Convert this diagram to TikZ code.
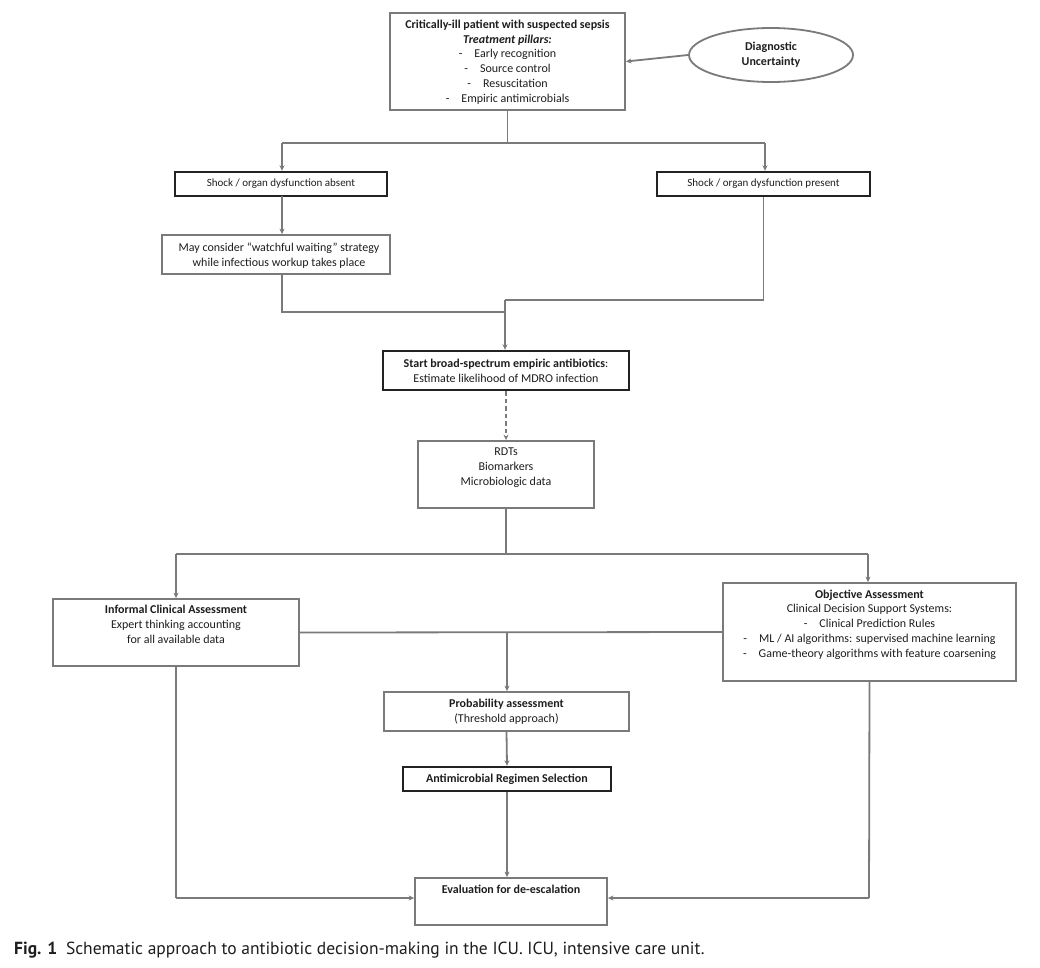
\documentclass[tikz,border=0pt]{standalone}
\usepackage{fontspec}
\setmainfont{Carlito}
\newfontfamily\capfont{PT Sans}
\usetikzlibrary{arrows.meta,shapes.geometric}
\definecolor{lgray}{HTML}{7A7A7A}
\definecolor{dgray}{HTML}{222222}
\definecolor{tgray}{HTML}{1E1E1E}
\tikzset{
  thinbox/.style={draw=lgray,line width=1.8pt,minimum width=#1,inner sep=0pt},
  thickbox/.style={draw=dgray,line width=2.4pt,minimum width=#1,inner sep=0pt},
  txt/.style={align=center,inner sep=0pt,text=tgray,font=\fontsize{12}{14.8}\selectfont},
  smalltxt/.style={txt,font=\fontsize{11}{14}\selectfont},
  conn/.style={draw=lgray,line width=1.8pt},
  arr/.style={conn,-{Stealth[length=5.5pt,width=5pt]}},
  darr/.style={arr,dash pattern=on 4.5pt off 3pt},
}
\begin{document}
\begin{tikzpicture}[x=1pt,y=-1pt]
\useasboundingbox[fill=white] (0,0) rectangle (1040,967);
% boxes
\node[thinbox=235pt,minimum height=97pt] (top) at (507.5,61.5) {};
\node[txt] (toptxt) at (507.5,62) {\textbf{Critically-ill patient with suspected sepsis}\\
  \textbf{\textit{Treatment pillars:}}\\
  -\quad Early recognition\\
  -\quad Source control\\
  -\quad Resuscitation\\
  -\quad Empiric antimicrobials};
\node[ellipse,draw=lgray,line width=1.8pt,minimum width=164pt,minimum height=54pt,inner sep=0pt] (ell) at (771,55) {};
\node[txt] (elltxt) at (771,55) {\textbf{Diagnostic}\\\textbf{Uncertainty}};
\node[thickbox=212pt,minimum height=24pt] (absent) at (281,184) {};
\node[smalltxt] (absenttxt) at (281,184) {Shock / organ dysfunction absent};
\node[thickbox=213pt,minimum height=24pt] (present) at (763.5,184) {};
\node[smalltxt] (presenttxt) at (763.5,184) {Shock / organ dysfunction present};
\node[thinbox=228pt,minimum height=39pt] (watch) at (276,254.5) {};
\node[txt] (watchtxt) at (279,255.5) {May consider ``watchful waiting'' strategy\\while infectious workup takes place};
\node[thickbox=246pt,minimum height=39pt] (broad) at (506,370.5) {};
\node[txt] (broadtxt) at (506,370.5) {\textbf{Start broad-spectrum empiric antibiotics}:\\Estimate likelihood of MDRO infection};
\node[thinbox=176pt,minimum height=67pt] (rdt) at (506,474.5) {};
\node[txt] (rdttxt) at (506,467.5) {RDTs\\Biomarkers\\Microbiologic data};
\node[thinbox=246pt,minimum height=67pt] (inf) at (176,632.5) {};
\node[txt] (inftxt) at (176,624.5) {\textbf{Informal Clinical Assessment}\\Expert thinking accounting\\for all available data};
\node[thinbox=293pt,minimum height=98pt] (obj) at (869.5,632) {};
\node[txt] (objtxt) at (869.5,624.5) {\textbf{Objective Assessment}\\Clinical Decision Support Systems:\\
  -\quad Clinical Prediction Rules\\
  -\quad ML / AI algorithms: supervised machine learning\\
  -\quad Game-theory algorithms with feature coarsening};
\node[thinbox=245pt,minimum height=39pt] (prob) at (506.5,711.5) {};
\node[txt] (probtxt) at (506.5,711.5) {\textbf{Probability assessment}\\(Threshold approach)};
\node[thickbox=208pt,minimum height=24pt] (regimen) at (507,779) {};
\node[txt] (regimentxt) at (507,779) {\textbf{Antimicrobial Regimen Selection}};
\node[thinbox=192pt,minimum height=47pt] (eval) at (511,901.5) {};
\node[txt] (evaltxt) at (511,889) {\textbf{Evaluation for de-escalation}};
% coordinates
\coordinate (j1) at (507.5,143);
\coordinate (j1l) at (282,143);
\coordinate (j1r) at (765,143);
\coordinate (w1) at (282,196);
\coordinate (j2a) at (282,312);
\coordinate (j2b) at (505,312);
\coordinate (j3a) at (763.5,300);
\coordinate (j3b) at (505,300);
\coordinate (j4) at (506,554);
\coordinate (j4l) at (176,554);
\coordinate (j4r) at (868,554);
\coordinate (j5) at (507,632);
\coordinate (j6l) at (176,898);
\coordinate (j6r) at (869,898);
% connectors
\draw[arr] (ell.west) -- (top.east);
\draw[conn] (top.south) -- (j1);
\draw[conn] (j1l) -- (j1r);
\draw[arr] (j1l) -- (j1l |- absent.north);
\draw[arr] (j1r) -- (j1r |- present.north);
\draw[arr] (w1) -- (w1 |- watch.north);
\draw[conn] (w1 |- watch.south) -- (j2a) -- (j2b);
\draw[conn] (present.south) -- (j3a) -- (j3b);
\draw[arr] (j3b) -- (j3b |- broad.north);
\draw[darr] (broad.south) -- (rdt.north);
\draw[conn] (rdt.south) -- (j4);
\draw[conn] (j4l) -- (j4r);
\draw[arr] (j4l) -- (inf.north);
\draw[arr] (j4r) -- (j4r |- obj.north);
\draw[conn] (inf.east) -- (obj.west);
\draw[arr] (j5) -- (j5 |- prob.north);
\draw[arr] (prob.south) -- (regimen.north);
\draw[arr] (regimen.south) -- (regimen.south |- eval.north);
\draw[conn] (inf.south) -- (j6l);
\draw[arr] (j6l) -- (eval.west |- j6l);
\draw[conn] (obj.south) -- (j6r);
\draw[arr] (j6r) -- (eval.east |- j6r);
% caption
\node[anchor=west,inner sep=0pt,text=tgray,font=\capfont\fontsize{17.5}{20}\selectfont] (cap) at (14,950) {\textbf{Fig. 1}\enspace Schematic approach to antibiotic decision-making in the ICU. ICU, intensive care unit.};
\end{tikzpicture}
\end{document}
